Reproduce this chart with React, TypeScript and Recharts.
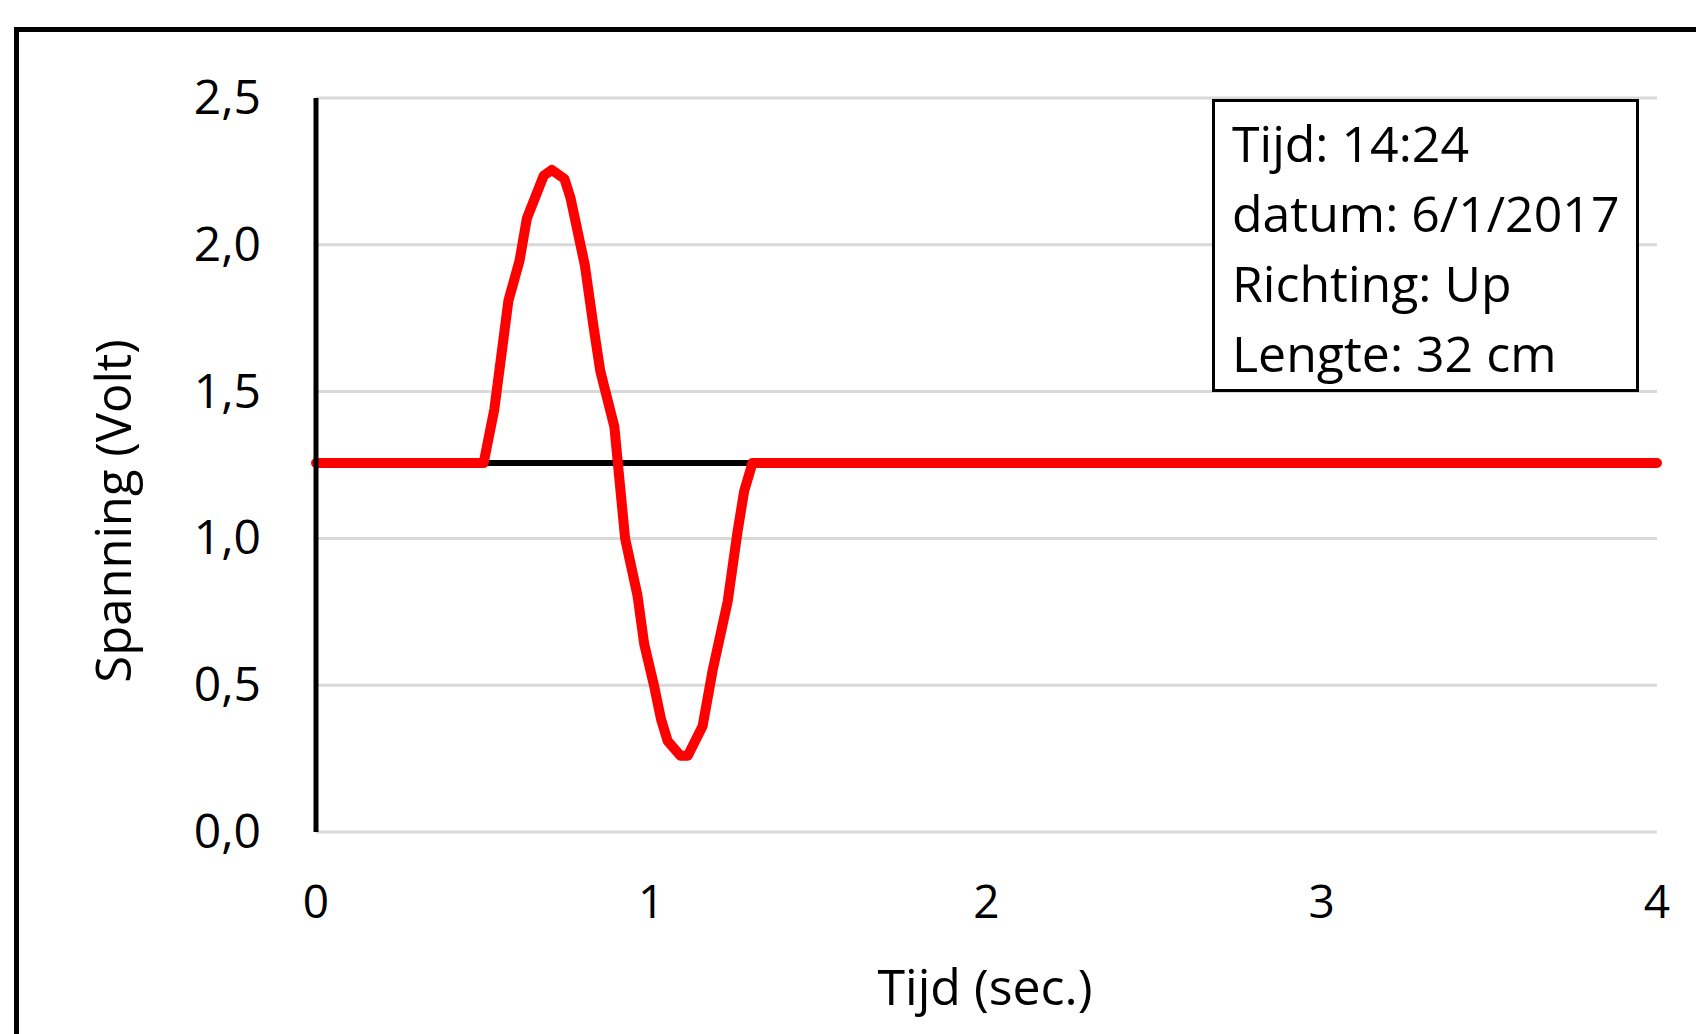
import React from "react";
import {
  LineChart,
  Line,
  XAxis,
  YAxis,
  CartesianGrid,
  ReferenceLine,
} from "recharts";

// Time (sec.) samples
const times = [
  0, 0.5, 0.532, 0.574, 0.607, 0.629, 0.679, 0.703, 0.741, 0.759, 0.802,
  0.828, 0.848, 0.89, 0.922, 0.959, 0.979, 1.009, 1.029, 1.049, 1.087, 1.109,
  1.153, 1.183, 1.228, 1.257, 1.277, 1.302, 4,
];
// Spanning (Volt)
const volts = [
  1.257, 1.257, 1.44, 1.81, 1.945, 2.09, 2.235, 2.255, 2.225, 2.16, 1.93,
  1.72, 1.57, 1.38, 1.0, 0.805, 0.64, 0.495, 0.385, 0.31, 0.26, 0.26, 0.36,
  0.55, 0.785, 1.02, 1.16, 1.257, 1.257,
];
const baseline = 1.257;
const xTicks = [0, 1, 2, 3, 4];
const yTicks = [0, 0.5, 1, 1.5, 2, 2.5];
const infoLines = ["Tijd: 14:24", "datum: 6/1/2017", "Richting: Up", "Lengte: 32 cm"];

const data = times.map((t, i) => ({ t, v: volts[i] }));

const FONT = "'Open Sans', 'Noto Sans', sans-serif";

const fmt = (v: number) => v.toFixed(1).replace(".", ",");

const XTick = (props: any) => {
  const { x, payload } = props;
  return (
    <text x={x} y={918} textAnchor="middle" fontFamily={FONT} fontSize={46} fill="#000">
      {String(payload.value)}
    </text>
  );
};

const YTick = (props: any) => {
  const { y, payload } = props;
  return (
    <text x={261} y={y + 16} textAnchor="end" fontFamily={FONT} fontSize={48} fill="#000">
      {fmt(payload.value)}
    </text>
  );
};

export default function App() {
  return (
    <div
      style={{
        position: "absolute",
        left: 0,
        top: 0,
        width: 1696,
        height: 1034,
        overflow: "hidden",
        background: "#fff",
        fontFamily: FONT,
      }}
    >
      <div
        style={{
          position: "absolute",
          left: 14,
          top: 27,
          width: 1800,
          height: 1200,
          border: "5px solid #000",
        }}
      />
      <div style={{ position: "absolute", left: 0, top: 0 }}>
        <LineChart
          width={1696}
          height={1034}
          data={data}
          margin={{ top: 98, right: 39, left: 0, bottom: 0 }}
        >
          <CartesianGrid
            horizontal
            vertical={false}
            stroke="#d9d9d9"
            strokeWidth={3}
          />
          <XAxis
            dataKey="t"
            type="number"
            domain={[0, 4]}
            ticks={xTicks}
            axisLine={false}
            tickLine={false}
            height={202}
            tick={<XTick />}
            interval={0}
          />
          <YAxis
            type="number"
            domain={[0, 2.5]}
            ticks={yTicks}
            width={316}
            axisLine={{ stroke: "#000", strokeWidth: 5 }}
            tickLine={false}
            tick={<YTick />}
            interval={0}
          />
          <ReferenceLine y={baseline} stroke="#000" strokeWidth={6} />
          <Line
            type="linear"
            dataKey="v"
            stroke="#ff0000"
            strokeWidth={10}
            dot={false}
            strokeLinejoin="round"
            strokeLinecap="round"
            isAnimationActive={false}
          />
          <text x={985} y={1005} textAnchor="middle" fontFamily={FONT} fontSize={50} fill="#000">
            Tijd (sec.)
          </text>
          <text
            x={131}
            y={511}
            textAnchor="middle"
            fontFamily={FONT}
            fontSize={49}
            fill="#000"
            transform="rotate(-90 131 511)"
          >
            Spanning (Volt)
          </text>
        </LineChart>
      </div>
      <div
        style={{
          position: "absolute",
          left: 1212,
          top: 99,
          width: 421,
          height: 287,
          border: "3px solid #000",
          background: "#fff",
        }}
      >
        {infoLines.map((l, i) => (
          <div
            key={i}
            style={{
              position: "absolute",
              left: 17,
              top: 6 + i * 70,
              fontSize: 50,
              lineHeight: "70px",
              whiteSpace: "nowrap",
              color: "#000",
            }}
          >
            {l}
          </div>
        ))}
      </div>
    </div>
  );
}
